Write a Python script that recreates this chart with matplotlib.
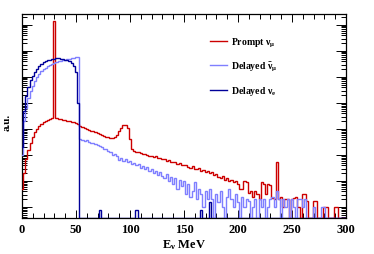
import matplotlib
matplotlib.use("Agg")
import matplotlib.pyplot as plt
import numpy as np
from matplotlib.ticker import LogLocator, NullFormatter, MultipleLocator

# 2 MeV bins centred on 0, 2, ..., 300 MeV
edges = np.arange(-1, 302, 2)

# bin heights as log10(a.u.), None = empty bin
prompt_numu = [
    0.7, 1.3, 1.85, 2.2, 2.45, 2.7, 2.87, 3.0, 3.12, 3.2,
    3.27, 3.32, 3.36, 3.39, 3.41, 7.15, 3.41, 3.40, 3.38, 3.36,
    3.34, 3.32, 3.30, 3.28, 3.26, 3.24, 3.20, 3.13, 3.08, 3.05,
    3.01, 2.98, 2.94, 2.91, 2.88, 2.86, 2.82, 2.78, 2.74, 2.71,
    2.68, 2.65, 2.66, 2.70, 2.78, 2.92, 3.05, 3.14, 3.16, 3.05,
    2.6, 2.25, 2.15, 2.12, 2.1, 2.08, 2.05, 2.05, 2.02, 1.98,
    1.98, 1.93, 1.95, 1.88, 1.90, 1.83, 1.86, 1.78, 1.80, 1.74,
    1.72, 1.75, 1.66, 1.70, 1.62, 1.60, 1.63, 1.55, 1.52, 1.56,
    1.48, 1.45, 1.50, 1.40, 1.43, 1.35, 1.38, 1.30, 1.36, 1.22,
    1.28, 1.15, 1.10, 1.18, 1.05, 1.12, 1.00, 1.05, 0.95, 1.02,
    0.9, 0.7, 0.7, 1.0, 0.95, 0.55, 0.6, 0.4, 0.6, 0.5,
    0.3, 0.95, 0.9, 0.5, 0.9, 0.85, 0.35, 0.3, 1.73, 0.3,
    0.4, 0.0, 0.3, 0.3, None, 0.3, 0.35, 0.4, 0.0, None,
    0.5, 0.5, 0.25, None, None, 0.25, 0.25, None, None, None,
    0.0, 0.0, None, None, None, 0.0, 0.0, None, None, None,
    None,
]

delayed_numubar = [
    2.0, 3.3, 3.8, 4.2, 4.45, 4.65, 4.85, 5.0, 5.12, 5.22,
    5.3, 5.36, 5.42, 5.47, 5.5, 5.54, 5.57, 5.6, 5.62, 5.64,
    5.66, 5.68, 5.7, 5.71, 5.73, 5.75, 5.77, 2.6, 2.58, 2.55,
    2.56, 2.5, 2.48, 2.45, 2.42, 2.4, 2.35, 2.32, 2.25, 2.22,
    2.15, 2.1, 2.0, 2.05, 1.95, 1.82, 1.9, 1.78, 1.85, 1.72,
    1.78, 1.65, 1.7, 1.6, 1.65, 1.5, 1.58, 1.45, 1.55, 1.38,
    1.45, 1.3, 1.4, 1.25, 1.35, 1.2, 1.1, 1.28, 1.0, 1.15,
    0.9, 1.1, 0.7, 1.05, 0.8, 1.0, 0.5, 0.9, 0.4, 0.6,
    0.95, 0.3, 0.7, 0.5, 0.0, 0.6, 0.3, 0.7, 0.3, None,
    0.5, 0.2, 0.6, 0.0, None, 0.4, 0.7, 0.3, 0.0, 0.5,
    0.2, None, 0.4, 0.0, 0.3, 0.25, None, 0.0, 0.3, None,
    0.3, 0.0, 0.3, None, 0.0, 0.3, 0.4, 0.0, 0.6, 0.3,
    None, 0.3, 0.0, 0.3, None, 0.3, 0.0, None, 0.3, 0.3,
    0.0, 0.3, None, None, None, 0.0, None, None, None, 0.0,
    0.0, None, None, None, None, None, None, None, None, None,
    None,
]

delayed_nue = [
    2.3, 3.7, 4.25, 4.6, 4.88, 5.05, 5.2, 5.32, 5.42, 5.5,
    5.56, 5.6, 5.64, 5.67, 5.69, 5.7, 5.71, 5.71, 5.7, 5.69,
    5.67, 5.64, 5.6, 5.53, 5.43, 5.18, 4.0, None, None, None,
    None, None, None, None, None, None, -0.1, None, None, None,
    None, None, None, None, None, None, None, None, None, None,
    None, None, None, -0.1, None, None, None, None, None, None,
    None, None, None, None, None, None, None, None, None, None,
    None, None, None, None, None, None, None, None, None, None,
    None, None, None, -0.12, None, None, None, 0.2, None, None,
] + [None] * 61

ymin, ymax = 10 ** -0.42, 10 ** 7.42


def to_counts(logvals):
    return np.array([ymin if v is None else 10 ** v for v in logvals])


plt.rcParams["font.family"] = "Liberation Serif"
plt.rcParams["font.weight"] = "bold"
plt.rcParams["mathtext.fontset"] = "custom"
plt.rcParams["mathtext.rm"] = "Liberation Serif:bold"
plt.rcParams["mathtext.it"] = "Liberation Serif:bold"
plt.rcParams["mathtext.bf"] = "Liberation Serif:bold"

fig = plt.figure(figsize=(3.74, 2.55), dpi=100)
ax = fig.add_axes([22 / 374, 1 - 219 / 255, 324 / 374, 204 / 255])

red = "#cc0000"
light = "#7f7fff"
dark = "#000099"

ax.stairs(to_counts(prompt_numu), edges, baseline=None, color=red, lw=1.0,
          zorder=3, label=r"Prompt $\nu_{\mu}$")
ax.stairs(to_counts(delayed_numubar), edges, baseline=None, color=light, lw=1.0,
          zorder=3, label=r"Delayed $\bar{\nu}_{\mu}$")
ax.stairs(to_counts(delayed_nue), edges, baseline=None, color=dark, lw=1.0,
          zorder=3, label=r"Delayed $\nu_{e}$")

ax.set_yscale("log")
ax.set_xlim(0, 300)
ax.set_ylim(ymin, ymax)

ax.xaxis.set_major_locator(MultipleLocator(50))
ax.xaxis.set_minor_locator(MultipleLocator(10))
ax.yaxis.set_major_locator(LogLocator(base=10, numticks=20))
ax.yaxis.set_minor_locator(LogLocator(base=10, subs=np.arange(2, 10), numticks=20))
ax.yaxis.set_major_formatter(NullFormatter())
ax.yaxis.set_minor_formatter(NullFormatter())

ax.tick_params(which="both", direction="in", top=True, right=True, width=0.7)
ax.tick_params(axis="x", which="major", length=6, labelsize=9, pad=3.5)
ax.tick_params(axis="x", which="minor", length=3.5)
ax.tick_params(axis="y", which="major", length=7)
ax.tick_params(axis="y", which="minor", length=3.5)
for s in ax.spines.values():
    s.set_linewidth(0.9)

ax.set_xlabel(r"$\mathrm{E}_{\nu}$ MeV", fontsize=9, fontweight="bold")
ax.xaxis.set_label_coords(0.5, -0.095)
fig.text(7.5 / 374, 1 - 122 / 255, "a.u.", rotation=90, ha="center", va="center",
         fontsize=8, fontweight="bold")

ax.legend(loc="upper left", bbox_to_anchor=(0.58, 0.895), frameon=False,
          fontsize=7, handlelength=1.8, handletextpad=0.4, labelspacing=1.15,
          borderpad=0, borderaxespad=0)

fig.savefig("out.png", dpi=100)
